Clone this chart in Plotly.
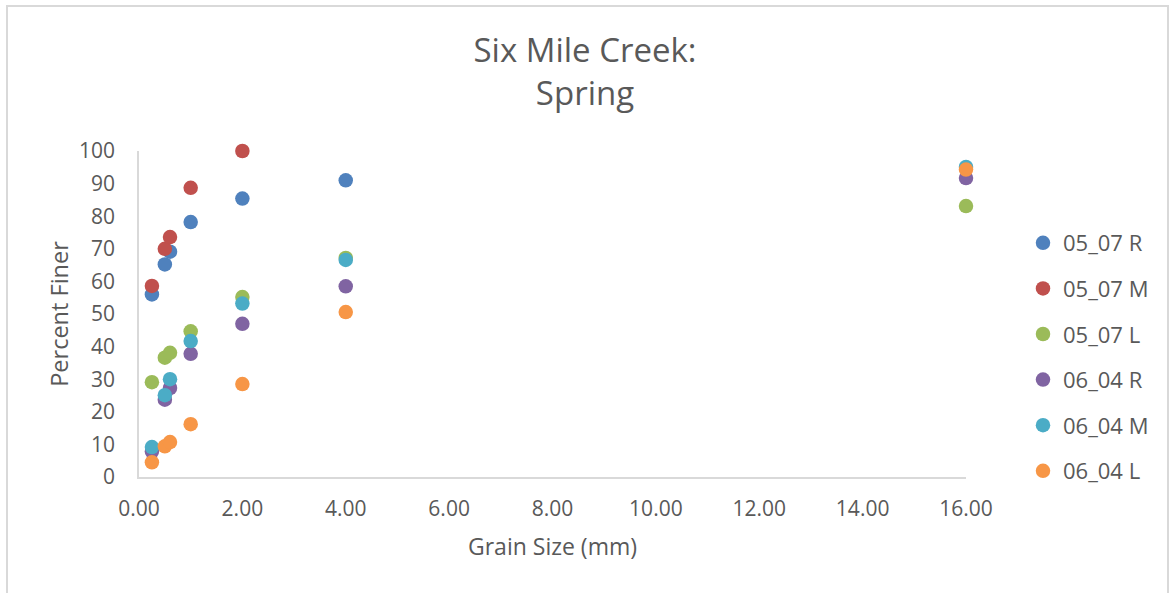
import plotly.graph_objects as go

W, H = 1170, 593
L, R, T, B = 139, 204, 151, 116

series_names = ["05_07 R", "05_07 M", "05_07 L", "06_04 R", "06_04 M", "06_04 L"]
colors = ["#4F81BD", "#C0504D", "#9BBB59", "#8064A2", "#4BACC6", "#F79646"]

x_0507R = [0.25, 0.5, 0.6, 1, 2, 4]
y_0507R = [56.0, 65.2, 69.1, 78.2, 85.4, 91.0]

x_0507M = [0.25, 0.5, 0.6, 1, 2]
y_0507M = [58.6, 70.0, 73.6, 88.7, 100.0]

x_0507L = [0.25, 0.5, 0.6, 1, 2, 4, 16]
y_0507L = [29.1, 36.6, 38.1, 44.7, 55.2, 67.2, 83.1]

x_0604R = [0.25, 0.5, 0.6, 1, 2, 4, 16]
y_0604R = [7.8, 23.7, 27.3, 37.8, 47.0, 58.5, 91.7]

x_0604M = [0.25, 0.5, 0.6, 1, 2, 4, 16]
y_0604M = [9.2, 25.1, 30.0, 41.7, 53.2, 66.6, 95.1]

x_0604L = [0.25, 0.5, 0.6, 1, 2, 4, 16]
y_0604L = [4.5, 9.4, 10.7, 16.2, 28.5, 50.6, 94.3]

xs = [x_0507R, x_0507M, x_0507L, x_0604R, x_0604M, x_0604L]
ys = [y_0507R, y_0507M, y_0507L, y_0604R, y_0604M, y_0604L]

x_ticks = [0, 2, 4, 6, 8, 10, 12, 14, 16]
x_tick_labels = ["0.00", "2.00", "4.00", "6.00", "8.00", "10.00", "12.00", "14.00", "16.00"]
y_ticks = [0, 10, 20, 30, 40, 50, 60, 70, 80, 90, 100]

TXT = "#595959"
FONT = "Open Sans, sans-serif"

fig = go.Figure()
for name, c, x, y in zip(series_names, colors, xs, ys):
    fig.add_trace(go.Scatter(
        x=x, y=y, mode="markers", name=name, legendgroup=name,
        marker=dict(color=c, size=14.5, line=dict(width=0)),
        cliponaxis=False,
    ))

pw = W - L - R
ph = H - T - B

fig.update_layout(
    width=W, height=H,
    margin=dict(l=L, r=R, t=T, b=B, pad=0),
    paper_bgcolor="white", plot_bgcolor="white",
    font=dict(family=FONT, color=TXT, size=21),
    title=dict(text="Six Mile Creek:<br>Spring", x=0.5, xanchor="center",
               y=1 - 62 / H, yanchor="top", yref="container",
               font=dict(size=33, color=TXT, family=FONT)),
    xaxis=dict(range=[0, 16], tickvals=x_ticks, ticktext=x_tick_labels,
               showgrid=False, zeroline=False, showline=True,
               linecolor="#D9D9D9", linewidth=1.5, ticks="",
               ticklabelstandoff=12,
               title=dict(text="Grain Size (mm)", standoff=18,
                          font=dict(size=23, color=TXT)),
               tickfont=dict(size=21, color=TXT)),
    yaxis=dict(range=[0, 100], tickvals=y_ticks,
               showgrid=False, zeroline=False, showline=True,
               linecolor="#D9D9D9", linewidth=1.5, ticks="",
               ticklabelstandoff=18,
               title=dict(text="Percent Finer", standoff=4,
                          font=dict(size=23.5, color=TXT)),
               tickfont=dict(size=21, color=TXT)),
    legend=dict(x=(1023 - L) / pw, xanchor="left", y=1 - (222 - T) / ph, yanchor="top",
                font=dict(size=22, color=TXT), tracegroupgap=14,
                bgcolor="rgba(0,0,0,0)", itemwidth=30),
    showlegend=True,
)

fig.add_shape(type="rect", xref="paper", yref="paper",
              x0=(7 - L) / pw, x1=(1168 - L) / pw,
              y0=(T + ph - 600) / ph, y1=(T + ph - 6) / ph,
              line=dict(color="#D9D9D9", width=2), fillcolor="rgba(0,0,0,0)",
              layer="below")

fig.write_html("out.html", config={"displayModeBar": False},
               post_script="document.body.style.margin='0';")
